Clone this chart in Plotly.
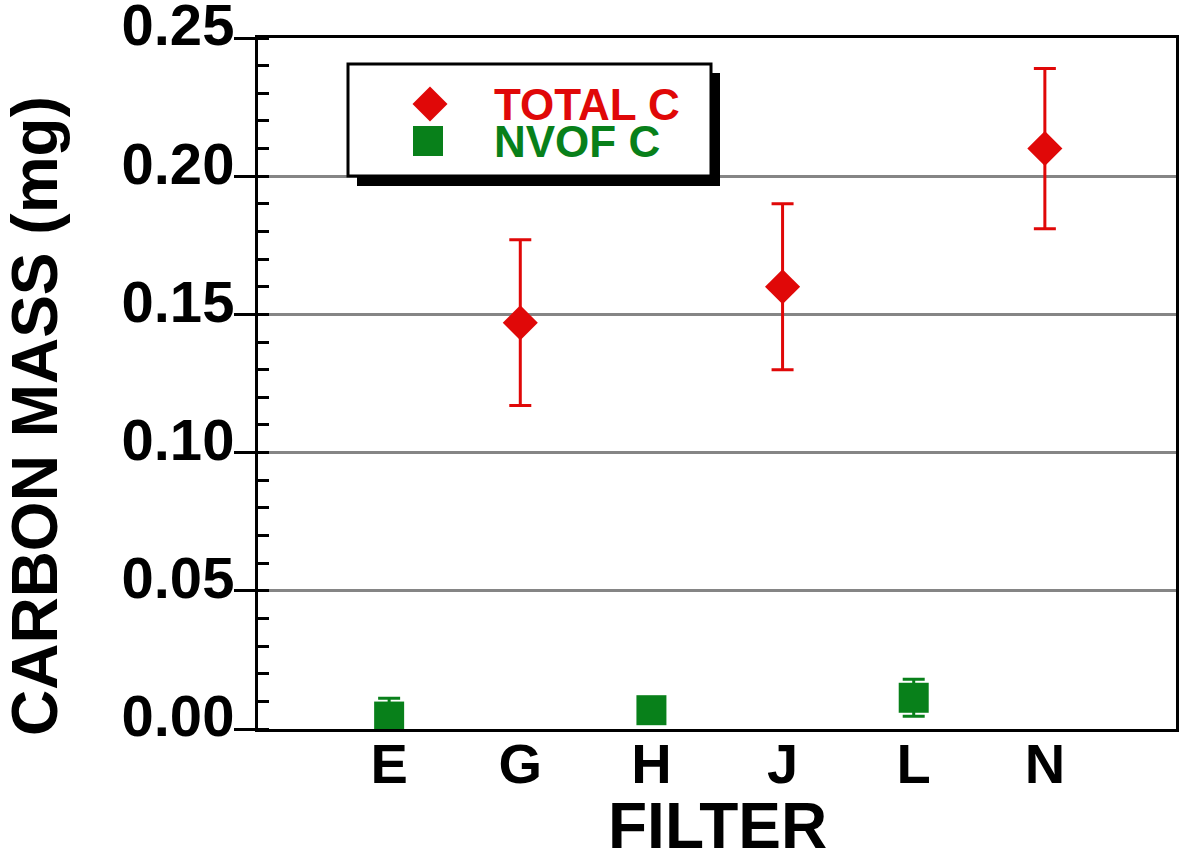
import plotly.graph_objects as go

# ---- data ----
categories = ["E", "G", "H", "J", "L", "N"]
total_filters = ["G", "J", "N"]
total_c = [0.147, 0.160, 0.210]
total_err = [0.030, 0.030, 0.029]
nvof_filters = ["E", "H", "L"]
nvof_c = [0.0045, 0.0068, 0.0113]
nvof_err = [0.0066, 0.0040, 0.0067]
y_ticks = [0.00, 0.05, 0.10, 0.15, 0.20, 0.25]

RED = "#E00808"
GREEN = "#08801A"
FONT = "Liberation Sans, Arial, Helvetica, sans-serif"

W, H = 1179, 858
ML, MR, MT, MB = 258, 3, 38, 129
PW, PH = W - ML - MR, H - MT - MB


def px(x):
    return (x - ML) / PW


def py(y):
    return (H - MB - y) / PH


fig = go.Figure()
fig.add_trace(go.Scatter(
    x=total_filters, y=total_c, mode="markers", name="TOTAL C",
    marker=dict(symbol="diamond", size=27, color=RED, line=dict(width=0)),
    error_y=dict(type="data", array=total_err, visible=True, color=RED,
                 thickness=3, width=11),
    showlegend=False,
))
fig.add_trace(go.Scatter(
    x=nvof_filters, y=nvof_c, mode="markers", name="NVOF C",
    marker=dict(symbol="square", size=30, color=GREEN, line=dict(width=0)),
    error_y=dict(type="data", array=nvof_err, visible=True, color=GREEN,
                 thickness=3, width=11),
    showlegend=False,
))

# ---- custom legend (box with drop shadow) ----
shapes = [
    dict(type="rect", xref="paper", yref="paper",
         x0=px(357), x1=px(720), y0=py(186), y1=py(73),
         fillcolor="black", line=dict(width=0), layer="above"),
    dict(type="rect", xref="paper", yref="paper",
         x0=px(348), x1=px(711), y0=py(176), y1=py(64),
         fillcolor="white", line=dict(color="black", width=3), layer="above"),
]
# legend symbols
dx, dy = 430, 104
dr = 17.5
shapes.append(dict(
    type="path", xref="paper", yref="paper", layer="above",
    path=(f"M {px(dx - dr)} {py(dy)} L {px(dx)} {py(dy - dr)} "
          f"L {px(dx + dr)} {py(dy)} L {px(dx)} {py(dy + dr)} Z"),
    fillcolor=RED, line=dict(width=0),
))
sx, sy, sr = 428, 141, 15
shapes.append(dict(
    type="rect", xref="paper", yref="paper", layer="above",
    x0=px(sx - sr), x1=px(sx + sr), y0=py(sy + sr), y1=py(sy - sr),
    fillcolor=GREEN, line=dict(width=0),
))

annotations = [
    dict(text="TOTAL C", xref="paper", yref="paper", x=px(492), y=py(104),
         xanchor="left", yanchor="middle", showarrow=False,
         font=dict(family=FONT, size=44, color=RED, weight="bold")),
    dict(text="NVOF C", xref="paper", yref="paper", x=px(492), y=py(141),
         xanchor="left", yanchor="middle", showarrow=False,
         font=dict(family=FONT, size=44, color=GREEN, weight="bold")),
    dict(text="CARBON MASS (mg)", xref="paper", yref="paper",
         x=px(35), y=py(416), textangle=-90,
         xanchor="center", yanchor="middle", showarrow=False,
         font=dict(family=FONT, size=64, color="black", weight="bold")),
    dict(text="FILTER", xref="paper", yref="paper",
         x=px(717), y=py(826),
         xanchor="center", yanchor="middle", showarrow=False,
         font=dict(family=FONT, size=64, color="black", weight="bold")),
]

fig.update_layout(
    width=W, height=H,
    margin=dict(l=ML, r=MR, t=MT, b=MB, pad=0, autoexpand=False),
    paper_bgcolor="white", plot_bgcolor="white",
    shapes=shapes, annotations=annotations,
    showlegend=False,
)

fig.update_xaxes(
    type="category", categoryorder="array", categoryarray=categories,
    range=[-1, len(categories)], automargin=False,
    showline=True, linecolor="black", linewidth=3, mirror=True,
    showgrid=False, zeroline=False, ticks="",
    tickfont=dict(family=FONT, size=56, color="black", weight="bold"),
    ticklabelstandoff=-16,
)

fig.update_yaxes(
    range=[0, 0.25], tickvals=y_ticks, tickformat=".2f", automargin=False,
    showline=True, linecolor="black", linewidth=3, mirror=True,
    showgrid=True, gridcolor="#858585", gridwidth=3, zeroline=False,
    ticks="outside", ticklen=21, tickwidth=3, tickcolor="black",
    minor=dict(ticks="inside", dtick=0.01, tick0=0, ticklen=11,
               tickwidth=3, tickcolor="black", showgrid=False),
    tickfont=dict(family=FONT, size=58, color="black", weight="bold"),
    ticklabelshift=-13, ticklabelstandoff=-12, ticklabeloverflow="allow",
)

fig.write_html("out.html",
               config={"displayModeBar": False},
               post_script="document.body.style.margin='0';"
                           "document.body.style.overflow='hidden';")
